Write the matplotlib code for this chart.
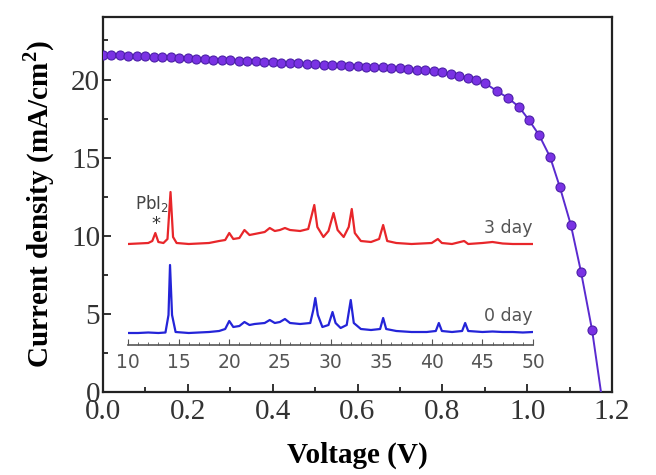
import matplotlib
matplotlib.use("Agg")
import matplotlib.pyplot as plt
from matplotlib.ticker import MultipleLocator

# ---- J-V data ----
voltage = [0.00, 0.02, 0.04, 0.06, 0.08, 0.10, 0.12, 0.14, 0.16, 0.18,
           0.20, 0.22, 0.24, 0.26, 0.28, 0.30, 0.32, 0.34, 0.36, 0.38,
           0.40, 0.42, 0.44, 0.46, 0.48, 0.50, 0.52, 0.54, 0.56, 0.58,
           0.60, 0.62, 0.64, 0.66, 0.68, 0.70, 0.72, 0.74, 0.76, 0.78,
           0.80, 0.82, 0.84, 0.86, 0.88, 0.900, 0.929, 0.955, 0.981, 1.004,
           1.028, 1.054, 1.077, 1.103, 1.127, 1.153]
current = [21.60, 21.58, 21.55, 21.53, 21.50, 21.48, 21.46, 21.43, 21.41, 21.38,
           21.36, 21.33, 21.31, 21.28, 21.26, 21.23, 21.21, 21.18, 21.16, 21.13,
           21.11, 21.08, 21.06, 21.03, 21.01, 20.98, 20.96, 20.93, 20.91, 20.88,
           20.86, 20.83, 20.80, 20.77, 20.74, 20.71, 20.67, 20.63, 20.58, 20.52,
           20.45, 20.36, 20.25, 20.11, 19.95, 19.78, 19.25, 18.82, 18.24, 17.41,
           16.45, 15.04, 13.12, 10.69, 7.68, 3.97]
voc = 1.174

# ---- XRD inset data (2theta, offset intensity a.u.) ----
tt_0day = [10.0, 11.0, 12.0, 13.0, 13.7, 14.0, 14.15, 14.35, 14.7, 16.0,
           17.0, 18.0, 19.0, 19.6, 20.0, 20.4, 21.0, 21.5, 22.0, 22.5,
           23.5, 24.0, 24.5, 25.0, 25.5, 26.0, 27.0, 28.0, 28.3, 28.5,
           28.75, 29.2, 29.8, 30.2, 30.5, 31.0, 31.6, 32.0, 32.3, 33.0,
           34.0, 34.9, 35.2, 35.5, 36.5, 38.0, 39.5, 40.4, 40.7, 41.0,
           42.0, 43.0, 43.3, 43.6, 45.0, 46.0, 47.0, 48.0, 49.0, 50.0]
int_0day = [12, 12, 12.5, 12, 12.5, 30, 80, 30, 13, 12,
            12.5, 13, 14, 16, 24, 18, 19, 23, 20, 21,
            22, 25, 22, 23, 26, 22, 21, 22, 35, 47,
            30, 18, 20, 33, 22, 17, 20, 45, 22, 16,
            15, 16, 27, 16, 14, 13, 13, 14, 22, 14,
            13, 14, 22, 14, 13, 13.5, 13, 13, 12.5, 13]

tt_3day = [10.0, 11.0, 12.0, 12.4, 12.7, 13.0, 13.5, 13.9, 14.2, 14.45,
           14.8, 16.0, 17.0, 18.0, 19.0, 19.6, 20.0, 20.4, 21.0, 21.5,
           22.0, 22.5, 23.0, 23.5, 24.0, 24.5, 25.0, 25.5, 26.0, 27.0,
           27.8, 28.4, 28.7, 29.3, 29.8, 30.3, 30.7, 31.3, 31.8, 32.1,
           32.4, 33.0, 34.0, 34.8, 35.2, 35.6, 36.5, 38.0, 40.0, 40.6,
           41.0, 42.0, 43.2, 43.6, 45.0, 46.0, 47.0, 48.0, 50.0]
int_3day = [101, 101.5, 102, 104, 112, 103, 102, 106, 153, 108,
            102, 101, 101.5, 102, 104, 105, 112, 106, 107, 115,
            110, 111, 112, 113, 117, 114, 115, 117, 115, 114,
            116, 140, 118, 108, 114, 132, 115, 108, 118, 136,
            112, 104, 103, 106, 120, 104, 102, 101, 102, 106,
            102, 101, 104, 101, 102, 103, 101.5, 101, 101]

xrd_ticks = [10, 15, 20, 25, 30, 35, 40, 45, 50]

plt.rcParams['font.family'] = ['Liberation Serif', 'DejaVu Serif']
plt.rcParams['mathtext.fontset'] = 'custom'
plt.rcParams['mathtext.rm'] = 'Liberation Serif'
plt.rcParams['mathtext.bf'] = 'Liberation Serif:bold'

fig = plt.figure(figsize=(6.56, 4.75), dpi=100)
ax = fig.add_axes([103/656, 1-392/475, (612-103)/656, (392-17)/475])

purple = '#7a32e4'
ax.plot(voltage + [voc], current + [0.0], color='#5a2ad0', lw=1.4, zorder=3)
ax.plot(voltage, current, ls='none', marker='o', ms=6.5,
        mfc=purple, mec='#4b1fa8', mew=0.8, zorder=4)

ax.set_xlim(0, 1.2)
ax.set_ylim(0, 24)
ax.xaxis.set_major_locator(MultipleLocator(0.2))
ax.xaxis.set_minor_locator(MultipleLocator(0.1))
ax.yaxis.set_major_locator(MultipleLocator(5))
ax.yaxis.set_minor_locator(MultipleLocator(2.5))
ax.tick_params(which='both', direction='in', top=False, right=False,
               labelsize=21, width=1.3, colors='#222222')
ax.tick_params(which='major', length=6)
ax.tick_params(which='minor', length=3.5)
ax.set_xticks([0, 0.2, 0.4, 0.6, 0.8, 1.0, 1.2])
ax.set_xticklabels(['0.0', '0.2', '0.4', '0.6', '0.8', '1.0', '1.2'])
for lab in ax.get_xticklabels() + ax.get_yticklabels():
    lab.set_color('#333333')
for s in ax.spines.values():
    s.set_linewidth(1.6)
    s.set_color('#222222')
ax.tick_params(axis='x', pad=5)
ax.tick_params(axis='y', pad=2)
ax.set_xlabel('Voltage (V)', fontsize=21, fontweight='bold', labelpad=12)
ax.set_ylabel('Current density (mA/cm$^\\mathbf{2}$)', fontsize=21,
              fontweight='bold', labelpad=10)

# ---- inset ----
ins = fig.add_axes([128/656, 1-345/475, (533-128)/656, (345-180)/475])
ins.patch.set_alpha(0)
ins.plot(tt_0day, int_0day, color='#2424d8', lw=1.6)
ins.plot(tt_3day, int_3day, color='#e8262a', lw=1.6)
ins.set_xlim(10, 50)
ins.set_ylim(0, 165)
for side in ['left', 'right', 'top']:
    ins.spines[side].set_visible(False)
ins.spines['bottom'].set_color('#555555')
ins.spines['bottom'].set_linewidth(1.2)
ins.set_yticks([])
ins.set_xticks(xrd_ticks)
ins.xaxis.set_minor_locator(MultipleLocator(1))
ins.tick_params(axis='x', which='both', direction='in', colors='#555555',
                labelsize=13.5, labelfontfamily='DejaVu Sans', pad=6)
ins.tick_params(axis='x', which='major', length=4)
ins.tick_params(axis='x', which='minor', length=2)
ins.text(50, 117, '3 day', ha='right', va='center', fontsize=12.5,
         color='#555555', family='DejaVu Sans')
ins.text(50, 29, '0 day', ha='right', va='center', fontsize=12.5,
         color='#555555', family='DejaVu Sans')
ins.text(10.7, 142, 'PbI$_2$', ha='left', va='center', fontsize=12,
         color='#444444', family='DejaVu Sans', math_fontfamily='dejavusans')
ins.text(12.75, 121, '*', ha='center', va='center', fontsize=13,
         color='#333333', family='DejaVu Sans')

fig.savefig('out.png', dpi=100)
